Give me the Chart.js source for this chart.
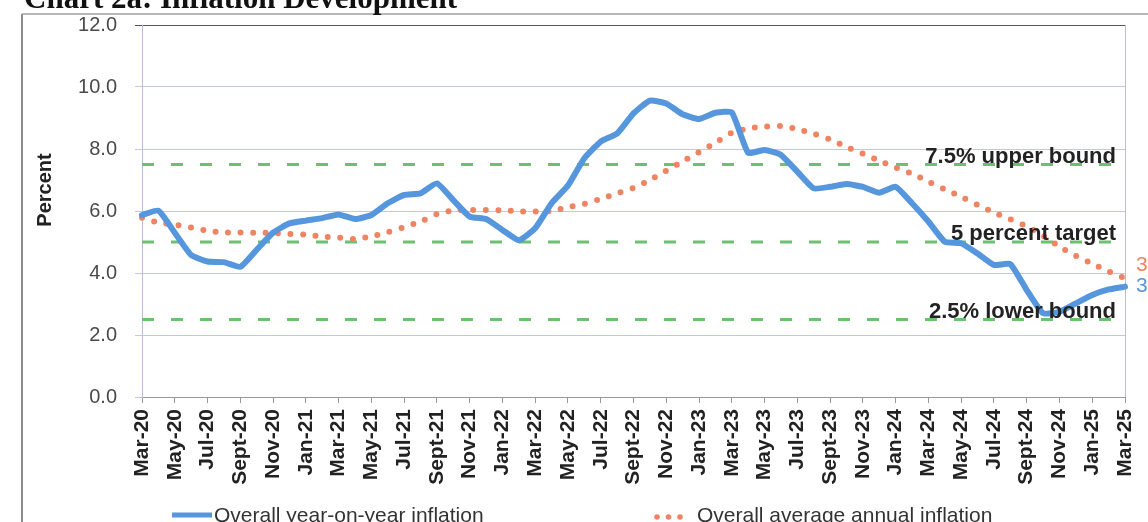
<!DOCTYPE html>
<html><head><meta charset="utf-8">
<script src="https://cdn.jsdelivr.net/npm/chart.js@4.4.1/dist/chart.umd.min.js"></script>
<style>html,body{margin:0;padding:0;background:#fff;overflow:hidden}#wrap{width:1148px;height:522px;position:relative}</style>
</head><body><div id="wrap"><canvas id="c" width="1148" height="522"></canvas></div>
<script>
const categories = [
 'Mar-20','Apr-20','May-20','Jun-20','Jul-20','Aug-20','Sept-20','Oct-20','Nov-20','Dec-20',
 'Jan-21','Feb-21','Mar-21','Apr-21','May-21','Jun-21','Jul-21','Aug-21','Sept-21','Oct-21','Nov-21','Dec-21',
 'Jan-22','Feb-22','Mar-22','Apr-22','May-22','Jun-22','Jul-22','Aug-22','Sept-22','Oct-22','Nov-22','Dec-22',
 'Jan-23','Feb-23','Mar-23','Apr-23','May-23','Jun-23','Jul-23','Aug-23','Sept-23','Oct-23','Nov-23','Dec-23',
 'Jan-24','Feb-24','Mar-24','Apr-24','May-24','Jun-24','Jul-24','Aug-24','Sept-24','Oct-24','Nov-24','Dec-24',
 'Jan-25','Feb-25','Mar-25'
];
const yoyInflation = [
 5.87,6.01,5.30,4.58,4.37,4.35,4.20,4.75,5.30,5.60,
 5.69,5.77,5.89,5.74,5.87,6.25,6.52,6.57,6.89,6.35,5.82,5.74,
 5.39,5.06,5.44,6.25,6.82,7.70,8.24,8.50,9.15,9.56,9.47,9.12,
 8.97,9.17,9.18,7.88,7.97,7.81,7.27,6.73,6.78,6.87,6.78,6.59,
 6.78,6.25,5.66,5.01,4.96,4.63,4.26,4.29,3.45,2.70,2.75,3.02,
 3.29,3.47,3.56
];
const avgAnnualInflation = [
 5.78,5.63,5.56,5.47,5.36,5.31,5.31,5.30,5.29,5.26,
 5.24,5.17,5.14,5.10,5.18,5.32,5.48,5.66,5.90,6.02,6.03,6.03,
 6.02,5.99,5.98,6.00,6.12,6.23,6.39,6.57,6.75,7.00,7.30,7.60,
 7.90,8.20,8.52,8.66,8.72,8.74,8.64,8.49,8.31,8.07,7.85,7.62,
 7.40,7.20,6.95,6.70,6.46,6.20,5.95,5.73,5.50,5.20,4.85,4.55,
 4.30,4.05,3.83
];
const yTicks = [0,2,4,6,8,10,12];
const referenceLines = [7.5, 5, 2.5];
const referenceLabels = ['7.5% upper bound','5 percent target','2.5% lower bound'];
const seriesNames = ['Overall year-on-year inflation','Overall average annual inflation'];
const titleText = 'Chart 2a: Inflation Development';
const yTitle = 'Percent';

const BLUE = '#5596dc', ORANGE = '#ef8463', GREEN = '#6cc070';
const SANS = '"Liberation Sans", Arial, sans-serif';

const decor = {
  id: 'decor',
  beforeDraw(chart) {
    const c = chart.ctx; c.save(); c.fillStyle = '#fff'; c.fillRect(0, 0, chart.width, chart.height); c.restore();
  },
  beforeDatasetsDraw(chart) {
    const { ctx, chartArea: a, scales: { y } } = chart;
    ctx.save();
    ctx.strokeStyle = GREEN; ctx.lineWidth = 3; ctx.setLineDash([12, 17]);
    referenceLines.forEach(v => {
      const py = y.getPixelForValue(v);
      ctx.beginPath(); ctx.moveTo(a.left, py); ctx.lineTo(a.right, py); ctx.stroke();
    });
    ctx.setLineDash([]);
    ctx.strokeStyle = '#b8bcd8'; ctx.lineWidth = 1;
    ctx.beginPath(); ctx.moveTo(a.right + 0.5, a.top); ctx.lineTo(a.right + 0.5, a.bottom); ctx.stroke();
    ctx.restore();
  },
  afterDatasetsDraw(chart) {
    const { ctx, chartArea: a, scales: { y } } = chart;
    ctx.save();
    ctx.fillStyle = '#222'; ctx.font = 'bold 22px ' + SANS; ctx.textAlign = 'right'; ctx.textBaseline = 'alphabetic';
    referenceLines.forEach((v, i) => {
      ctx.fillText(referenceLabels[i], a.right - 9, y.getPixelForValue(v) - 2);
    });
    ctx.font = '21px ' + SANS; ctx.textAlign = 'left'; ctx.textBaseline = 'middle';
    const lb = yoyInflation[yoyInflation.length - 1], lo = avgAnnualInflation[avgAnnualInflation.length - 1];
    ctx.fillStyle = ORANGE; ctx.fillText(lo.toFixed(1), a.right + 11, y.getPixelForValue(lo) - 13);
    ctx.fillStyle = BLUE; ctx.fillText(lb.toFixed(1), a.right + 11, y.getPixelForValue(lb));
    ctx.restore();
  },
  afterDraw(chart) {
    const { ctx } = chart;
    ctx.save();
    ctx.strokeStyle = '#8a8a8a'; ctx.lineWidth = 2;
    ctx.beginPath(); ctx.moveTo(22, 522); ctx.lineTo(22, 14); ctx.stroke();
    ctx.strokeStyle = '#a0a0a0'; ctx.lineWidth = 1.5;
    ctx.beginPath(); ctx.moveTo(22, 14); ctx.lineTo(1148, 14); ctx.stroke();
    ctx.fillStyle = '#111'; ctx.font = 'bold 31px "Liberation Serif", "Times New Roman", serif';
    ctx.textAlign = 'left'; ctx.textBaseline = 'alphabetic';
    ctx.fillText(titleText, 24, 7.5);
    ctx.save();
    ctx.translate(45, 190); ctx.rotate(-Math.PI / 2);
    ctx.font = 'bold 20px ' + SANS; ctx.fillStyle = '#222'; ctx.textAlign = 'center'; ctx.textBaseline = 'middle';
    ctx.fillText(yTitle, 0, 0);
    ctx.restore();
    ctx.strokeStyle = BLUE; ctx.lineWidth = 5;
    ctx.beginPath(); ctx.moveTo(172, 515); ctx.lineTo(212, 515); ctx.stroke();
    ctx.font = '21px ' + SANS; ctx.fillStyle = '#333'; ctx.textAlign = 'left'; ctx.textBaseline = 'alphabetic';
    ctx.fillText(seriesNames[0], 214, 522);
    ctx.fillStyle = ORANGE;
    [657, 668.5, 680].forEach(x => { ctx.beginPath(); ctx.arc(x, 517, 2.8, 0, Math.PI * 2); ctx.fill(); });
    ctx.fillStyle = '#333';
    ctx.fillText(seriesNames[1], 697, 522);
    ctx.restore();
  }
};

new Chart(document.getElementById('c'), {
  type: 'line',
  data: {
    labels: categories,
    datasets: [
      { label: seriesNames[0], data: yoyInflation, borderColor: BLUE, borderWidth: 6, pointRadius: 0,
        tension: 0.15, borderJoinStyle: 'round', borderCapStyle: 'round', fill: false },
      { label: seriesNames[1], data: avgAnnualInflation, borderColor: ORANGE, borderWidth: 6, pointRadius: 0,
        tension: 0.3, borderDash: [0, 12.5], borderCapStyle: 'round', fill: false }
    ]
  },
  options: {
    responsive: false, animation: false, devicePixelRatio: 1,
    layout: { padding: { top: 25, right: 23, bottom: 0, left: 0 } },
    plugins: { legend: { display: false }, tooltip: { enabled: false }, title: { display: false } },
    scales: {
      x: {
        type: 'category', offset: false,
        grid: { display: true, drawOnChartArea: false, drawTicks: true, tickLength: 6, color: '#999' },
        border: { display: true, color: '#999', width: 1 },
        ticks: {
          autoSkip: false, maxRotation: 90, minRotation: 90, padding: 6, color: '#222',
          font: { family: SANS, size: 21, weight: 'bold' },
          callback: function (val, i) { return i % 2 === 0 ? this.getLabelForValue(val) : null; }
        },
        afterFit: s => { s.height = 125; s.paddingLeft = 0; s.paddingRight = 0; }
      },
      y: {
        min: 0, max: 12,
        afterBuildTicks: s => { s.ticks = yTicks.map(v => ({ value: v })); },
        ticks: { padding: 18, color: '#4a4a4a', font: { family: SANS, size: 20 }, callback: v => Number(v).toFixed(1) },
        grid: { color: ctx => (ctx.tick && ctx.tick.value === 12) ? '#555' : '#c5c8dc', tickLength: 7, lineWidth: 1 },
        border: { color: '#b8bcd8' },
        afterFit: s => { s.width = 142; s.paddingTop = 0; s.paddingBottom = 0; }
      }
    }
  },
  plugins: [decor]
});
</script>
</body></html>
